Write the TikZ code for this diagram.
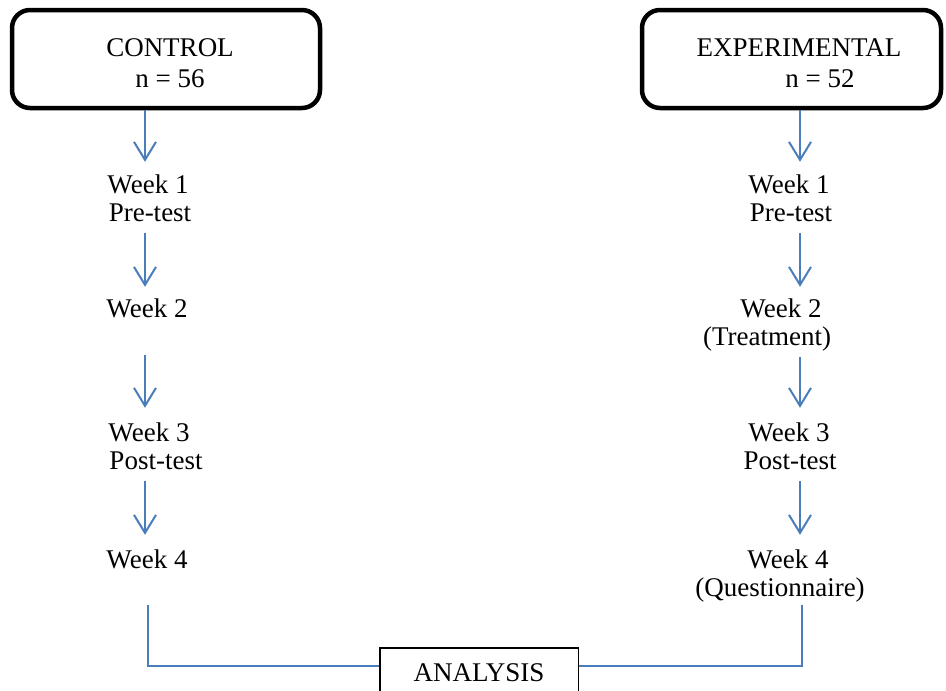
\documentclass[tikz,border=0pt]{standalone}
\usepackage{fontspec}
\setmainfont{Liberation Serif}
\usetikzlibrary{arrows.meta}
\definecolor{arrblue}{RGB}{74,126,187}
\begin{document}
\begin{tikzpicture}[x=1pt,y=-1pt,
  grpbox/.style={draw=black, line width=4.5pt, rounded corners=18pt, minimum height=98pt, inner sep=0pt},
  lbl/.style={anchor=base, inner sep=0pt, text height=17pt, text depth=6pt, font=\fontsize{27}{30}\selectfont},
  flow/.style={draw=arrblue, line width=2pt, -{Straight Barb[length=18pt,width=22pt]}},
  link/.style={draw=arrblue, line width=2pt},
  anabox/.style={draw=black, line width=1.5pt, minimum width=198.5pt, minimum height=56pt, inner sep=0pt, text height=17pt, text depth=6pt, font=\fontsize{27}{30}\selectfont}]
\useasboundingbox (0,0) rectangle (946,691);
\clip (0,0) rectangle (946,691);

% columns
\coordinate (colL) at (145,0);
\coordinate (colR) at (800,0);
\coordinate (linL) at (148,0);
\coordinate (linR) at (802,0);

% group boxes
\node[grpbox, minimum width=308pt] (ctrl) at (166,59) {};
\node[lbl] (ctrlt) at (170,56) {CONTROL};
\node[lbl] (ctrln) at (170,87) {n = 56};
\node[grpbox, minimum width=299pt] (exp) at (791.5,59) {};
\node[lbl] (expt) at (799,56) {EXPERIMENTAL};
\node[lbl] (expn) at (820,87) {n = 52};

% control column
\node[lbl] (cw1) at (148,193) {Week 1};
\node[lbl] (cp1) at (150,221) {Pre-test};
\node[lbl] (cw2) at (147,317) {Week 2};
\node[lbl] (cw3) at (149,441) {Week 3};
\node[lbl] (cp3) at (156,469) {Post-test};
\node[lbl] (cw4) at (147,568) {Week 4};

% experimental column
\node[lbl] (ew1) at (789,193) {Week 1};
\node[lbl] (ep1) at (791,221) {Pre-test};
\node[lbl] (ew2) at (781,317) {Week 2};
\node[lbl] (et2) at (767,345) {(Treatment)};
\node[lbl] (ew3) at (789,441) {Week 3};
\node[lbl] (ep3) at (790,469) {Post-test};
\node[lbl] (ew4) at (788,568) {Week 4};
\node[lbl] (eq4) at (780,596) {(Questionnaire)};

% analysis
\node[anabox] (ana) at (479,676) {ANALYSIS};

% control arrows
\draw[flow, shorten >=14pt] (ctrl.south -| colL) -- (cw1.north -| colL);
\draw[flow, shorten <=6pt, shorten >=13pt] (cp1.south -| colL) -- (cw2.north -| colL);
\draw[flow, shorten <=32pt, shorten >=16pt] (cw2.south -| colL) -- (cw3.north -| colL);
\draw[flow, shorten <=6pt, shorten >=16pt] (cp3.south -| colL) -- (cw4.north -| colL);
\draw[link, shorten <=31pt] (cw4.south -| linL) |- ([yshift=10pt]ana.west);

% experimental arrows
\draw[flow, shorten >=14pt] (exp.south -| colR) -- (ew1.north -| colR);
\draw[flow, shorten <=6pt, shorten >=13pt] (ep1.south -| colR) -- (ew2.north -| colR);
\draw[flow, shorten <=6pt, shorten >=16pt] (et2.south -| colR) -- (ew3.north -| colR);
\draw[flow, shorten <=6pt, shorten >=16pt] (ep3.south -| colR) -- (ew4.north -| colR);
\draw[link, shorten <=3pt] (eq4.south -| linR) |- ([yshift=10pt]ana.east);
\end{tikzpicture}
\end{document}
